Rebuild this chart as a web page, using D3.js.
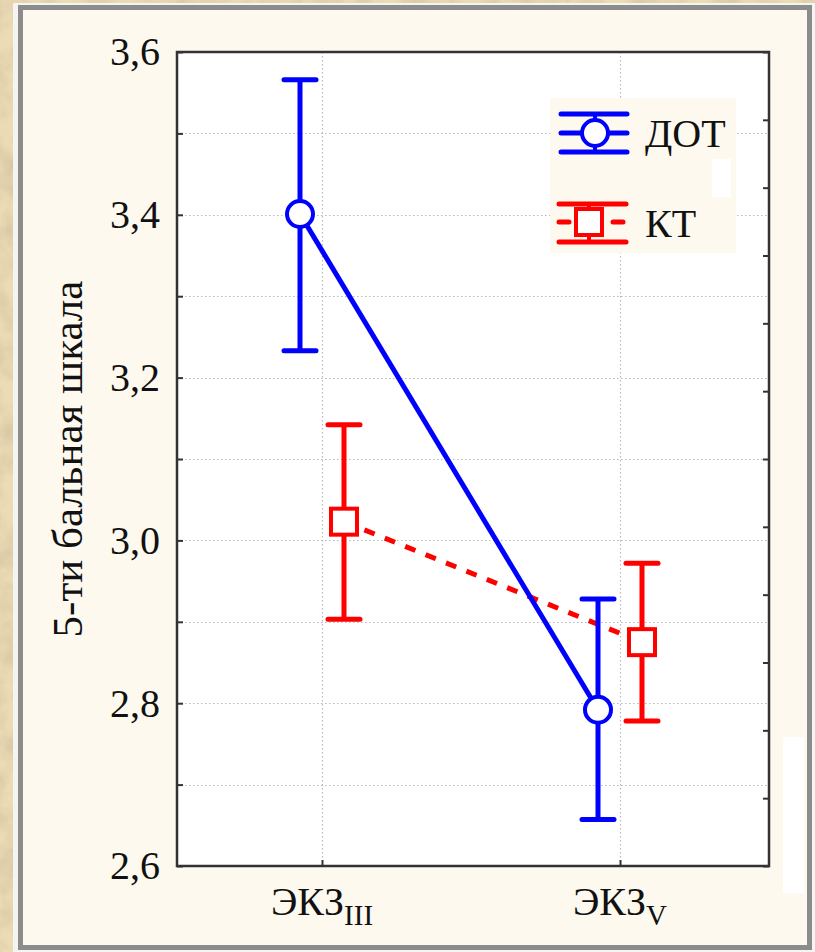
<!DOCTYPE html>
<html>
<head>
<meta charset="utf-8">
<script src="https://cdn.jsdelivr.net/npm/d3@7"></script>
<style>
  html, body { margin: 0; padding: 0; background: #e8d8b0; }
  svg { display: block; }
</style>
</head>
<body>
<svg id="chart"></svg>
<script>
// data
const categories = ["ЭКЗ_III", "ЭКЗ_V"];
const catMain = ["ЭКЗ", "ЭКЗ"];
const catSub = ["III", "V"];
const seriesNames = ["ДОТ", "КТ"];
const dotMean = [3.401, 2.792];
const dotLow = [3.233, 2.657];
const dotHigh = [3.566, 2.928];
const ktMean = [3.023, 2.875];
const ktLow = [2.903, 2.778];
const ktHigh = [3.142, 2.972];
const yTicks = [2.6, 2.7, 2.8, 2.9, 3.0, 3.1, 3.2, 3.3, 3.4, 3.5, 3.6];

const FONT = "'Liberation Serif', Tinos, 'Times New Roman', serif";
const W = 815, H = 952;
const svg = d3.select("#chart").attr("width", W).attr("height", H);

// parchment background
const defs = svg.append("defs");
const f = defs.append("filter").attr("id", "paper").attr("x", 0).attr("y", 0).attr("width", "100%").attr("height", "100%");
f.append("feTurbulence").attr("type", "fractalNoise").attr("baseFrequency", "0.035").attr("numOctaves", 4).attr("seed", 3);
f.append("feColorMatrix").attr("type", "matrix")
  .attr("values", "0 0 0 0 0.55  0 0 0 0 0.45  0 0 0 0 0.28  0 0 0 -1.6 1.1");
f.append("feComposite").attr("in2", "SourceGraphic").attr("operator", "in");

svg.append("rect").attr("width", W).attr("height", H).attr("fill", "#ecdcb6");
svg.append("rect").attr("width", W).attr("height", H).attr("fill", "#ecdcb6").attr("filter", "url(#paper)").attr("opacity", 0.6);

// panel
svg.append("rect").attr("x", 13).attr("y", 3).attr("width", 802).attr("height", 949).attr("fill", "#f4f4f2");
svg.append("rect").attr("x", 20.5).attr("y", 7.5).attr("width", 789).attr("height", 940)
  .attr("fill", "#fdf9ee").attr("stroke", "#8c8c8c").attr("stroke-width", 5);
svg.append("rect").attr("x", 783).attr("y", 737).attr("width", 21).attr("height", 156).attr("fill", "#ffffff");

const plot = { left: 177, top: 52, right: 769, bottom: 866 };

const y = d3.scaleLinear().domain([2.6, 3.6]).range([plot.bottom, plot.top]);
const yRight = d3.scaleLinear().domain([0, 12]).range([plot.bottom, plot.top]);
const x = d3.scalePoint().domain(categories).range([322, 620]);
const offset = { "ДОТ": -22, "КТ": 22 };

svg.append("rect").attr("x", plot.left).attr("y", plot.top)
  .attr("width", plot.right - plot.left).attr("height", plot.bottom - plot.top).attr("fill", "#fff");

// grid
const grid = svg.append("g").attr("stroke", "#b8b8b8").attr("stroke-width", 1.2).attr("stroke-dasharray", "1.5,2.5");
grid.selectAll(".hg").data(yTicks.slice(1, -1)).enter().append("line")
  .attr("x1", plot.left).attr("x2", plot.right)
  .attr("y1", d => Math.round(y(d)) + 0.5).attr("y2", d => Math.round(y(d)) + 0.5);
grid.selectAll(".vg").data(categories).enter().append("line")
  .attr("x1", d => x(d) + 0.5).attr("x2", d => x(d) + 0.5)
  .attr("y1", plot.top).attr("y2", plot.bottom);

// legend background (drawn over grid)
svg.append("rect").attr("x", 550).attr("y", 98).attr("width", 186).attr("height", 155).attr("fill", "#fdf9ee");
svg.append("rect").attr("x", 712).attr("y", 159).attr("width", 19).attr("height", 38).attr("fill", "#ffffff");

// axes
const fmt = d => d3.format(".1f")(d).replace(".", ",");
const yAxis = d3.axisLeft(y).tickValues(yTicks).tickSizeInner(-6).tickSizeOuter(0).tickPadding(17)
  .tickFormat(d => Math.round(d * 10) % 2 === 0 ? fmt(d) : "");
const gy = svg.append("g").attr("transform", `translate(${plot.left},0)`).call(yAxis);
gy.selectAll("text").style("font-size", "40px").style("font-family", FONT).attr("fill", "#111");

const gr = svg.append("g").attr("transform", `translate(${plot.right},0)`)
  .call(d3.axisRight(yRight).ticks(12).tickSizeInner(-6).tickSizeOuter(0).tickFormat(""));

const gx = svg.append("g").attr("transform", `translate(0,${plot.bottom})`)
  .call(d3.axisBottom(x).tickSizeInner(-6).tickSizeOuter(0).tickFormat(""));

[gy, gr, gx].forEach(g => {
  g.select(".domain").remove();
  g.selectAll(".tick line").attr("stroke", "#333").attr("stroke-width", 2);
});

svg.append("rect").attr("x", plot.left).attr("y", plot.top)
  .attr("width", plot.right - plot.left).attr("height", plot.bottom - plot.top)
  .attr("fill", "none").attr("stroke", "#333").attr("stroke-width", 2.5);

// x labels with subscript
categories.forEach((c, i) => {
  const t = svg.append("text").attr("x", x(c)).attr("y", 915).attr("text-anchor", "middle")
    .style("font-size", "40px").style("font-family", FONT).attr("fill", "#111");
  t.append("tspan").text(catMain[i]);
  t.append("tspan").attr("dy", 10).style("font-size", "29px").text(catSub[i]);
});

// y label
svg.append("text").attr("transform", "translate(82,459) rotate(-90)").attr("text-anchor", "middle")
  .style("font-size", "43px").style("font-family", FONT).attr("fill", "#111").text("5-ти бальная шкала");

// series
const series = [
  { name: seriesNames[0], color: "#0000ff", dash: null, mean: dotMean, low: dotLow, high: dotHigh, shape: "circle" },
  { name: seriesNames[1], color: "#ff0000", dash: "11,11", mean: ktMean, low: ktLow, high: ktHigh, shape: "square" }
];

const line = d3.line().x(d => d[0]).y(d => d[1]);

// connecting lines first
[series[1], series[0]].forEach(s => {
  const pts = categories.map((c, i) => [x(c) + offset[s.name], y(s.mean[i])]);
  svg.append("path").attr("d", line(pts)).attr("fill", "none")
    .attr("stroke", s.color).attr("stroke-width", 5)
    .attr("stroke-dasharray", s.dash);
});

function marker(g, s, cx, cy) {
  if (s.shape === "circle") {
    g.append("circle").attr("cx", cx).attr("cy", cy).attr("r", 13)
      .attr("fill", "#fff").attr("stroke", s.color).attr("stroke-width", 4);
  } else {
    g.append("rect").attr("x", cx - 13).attr("y", cy - 13).attr("width", 26).attr("height", 26)
      .attr("fill", "#fff").attr("stroke", s.color).attr("stroke-width", 4);
  }
}

series.forEach(s => {
  const g = svg.append("g").attr("stroke-linecap", "round");
  categories.forEach((c, i) => {
    const cx = x(c) + offset[s.name];
    g.append("line").attr("x1", cx).attr("x2", cx).attr("y1", y(s.low[i])).attr("y2", y(s.high[i]))
      .attr("stroke", s.color).attr("stroke-width", 5).attr("stroke-linecap", "butt");
    [s.low[i], s.high[i]].forEach(v => {
      g.append("line").attr("x1", cx - 16).attr("x2", cx + 16).attr("y1", y(v)).attr("y2", y(v))
        .attr("stroke", s.color).attr("stroke-width", 5);
    });
    marker(g, s, cx, y(s.mean[i]));
  });
});

// legend
const legendRows = [
  { s: series[0], yc: 133, cx: 595, top: 114, bottom: 152, x1: 561, x2: 627, ty: 147 },
  { s: series[1], yc: 222, cx: 589, top: 204, bottom: 242, x1: 559, x2: 626, ty: 237 }
];
legendRows.forEach(r => {
  const g = svg.append("g").attr("stroke", r.s.color).attr("stroke-linecap", "round");
  g.append("line").attr("x1", r.x1).attr("x2", r.x2).attr("y1", r.top).attr("y2", r.top).attr("stroke-width", 5);
  g.append("line").attr("x1", r.x1).attr("x2", r.x2).attr("y1", r.bottom).attr("y2", r.bottom).attr("stroke-width", 5);
  g.append("line").attr("x1", r.cx).attr("x2", r.cx).attr("y1", r.top).attr("y2", r.bottom).attr("stroke-width", 4).attr("stroke-linecap", "butt");
  if (r.s.dash) {
    g.append("line").attr("x1", r.x1).attr("x2", r.x1 + 10).attr("y1", r.yc).attr("y2", r.yc).attr("stroke-width", 5);
    g.append("line").attr("x1", r.x2 - 13).attr("x2", r.x2 - 3).attr("y1", r.yc).attr("y2", r.yc).attr("stroke-width", 5);
  } else {
    g.append("line").attr("x1", r.x1).attr("x2", r.x2).attr("y1", r.yc).attr("y2", r.yc).attr("stroke-width", 5);
  }
  marker(g, r.s, r.cx, r.yc);
  svg.append("text").attr("x", 645).attr("y", r.ty).style("font-size", "40px").style("font-family", FONT)
    .attr("fill", "#111").text(r.s.name);
});
</script>
</body>
</html>
